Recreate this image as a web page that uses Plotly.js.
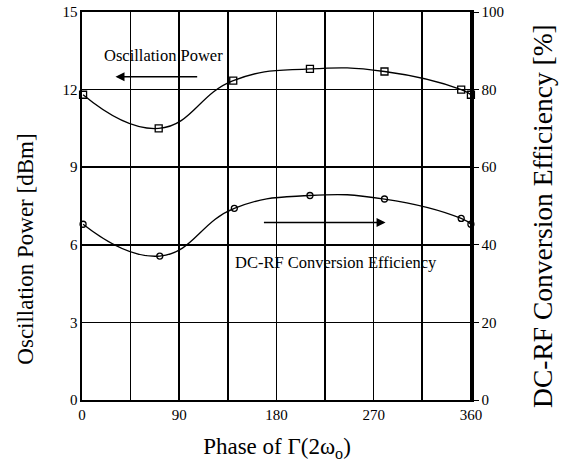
<!DOCTYPE html>
<html>
<head>
<meta charset="utf-8">
<script src="https://cdn.plot.ly/plotly-3.0.1.min.js"></script>
<style>html,body{margin:0;padding:0;background:#fff;}#chart{width:562px;height:462px;}</style>
</head>
<body>
<div id="chart"></div>
<script>
// Phase of Gamma(2w0) in degrees
const powerPhase = [1, 71, 140, 211, 280, 351, 360];
const powerDbm = [11.8, 10.5, 12.35, 12.8, 12.7, 12.0, 11.8];
const effPhase = [1, 72, 141, 211, 280, 351, 360];
const effPct = [45.3, 37.1, 49.4, 52.7, 51.8, 46.8, 45.3];
const xGrid = [0, 45, 90, 135, 180, 225, 270, 315, 360];
const xTickText = ['0', '', '90', '', '180', '', '270', '', '360'];
const yLeftTicks = [0, 3, 6, 9, 12, 15];
const yRightTicks = [0, 20, 40, 60, 80, 100];

const fam = 'Liberation Serif, Times New Roman, serif';
const f = (s) => ({family: fam, size: s, color: '#000'});

const traces = [
  {
    x: powerPhase, y: powerDbm, type: 'scatter', mode: 'lines+markers',
    line: {color: '#000', width: 1.3, shape: 'spline', smoothing: 1.3},
    marker: {symbol: 'square-open', size: 7, color: '#000', line: {width: 1.3}},
    yaxis: 'y', showlegend: false, cliponaxis: false
  },
  {
    x: effPhase, y: effPct, type: 'scatter', mode: 'lines+markers',
    line: {color: '#000', width: 1.3, shape: 'spline', smoothing: 1.3},
    marker: {symbol: 'circle-open', size: 6, color: '#000', line: {width: 1.3}},
    yaxis: 'y2', showlegend: false, cliponaxis: false
  }
];

const layout = {
  width: 562, height: 462,
  margin: {l: 82, r: 90, t: 12, b: 62},
  paper_bgcolor: '#fff', plot_bgcolor: '#fff',
  font: f(15),
  xaxis: {
    range: [0, 361], tickvals: xGrid, ticktext: xTickText,
    showgrid: true, gridcolor: '#000', gridwidth: 1.6,
    showline: true, linecolor: '#000', linewidth: 1.6, mirror: true,
    zeroline: false, ticks: '', tickfont: f(15),
    title: {text: 'Phase of Γ(2ω<sub>o</sub>)', font: f(23), standoff: 20}
  },
  yaxis: {
    range: [0, 15], tickvals: yLeftTicks,
    showgrid: true, gridcolor: '#000', gridwidth: 1.6,
    showline: true, linecolor: '#000', linewidth: 1.6, mirror: true,
    zeroline: false, ticks: '', tickfont: f(15)
  },
  yaxis2: {
    range: [0, 100], tickvals: yRightTicks, overlaying: 'y', side: 'right',
    showgrid: false, showline: true, linecolor: '#000', linewidth: 1.6,
    zeroline: false, ticks: 'outside', ticklen: 5, tickcolor: '#000', tickwidth: 1,
    tickfont: f(15)
  },
  annotations: [
    {x: -0.1436, y: 0.39, xref: 'paper', yref: 'paper', text: 'Oscillation Power [dBm]',
     textangle: -90, showarrow: false, xanchor: 'center', yanchor: 'middle', font: f(23)},
    {x: 1.179, y: 0.474, xref: 'paper', yref: 'paper', text: 'DC-RF Conversion Efficiency [%]',
     textangle: -90, showarrow: false, xanchor: 'center', yanchor: 'middle', font: f(27.5)},
    {x: 75, y: 13.3, xref: 'x', yref: 'y', text: 'Oscillation Power', showarrow: false, font: f(16.5)},
    {x: 31, y: 12.5, ax: 108, ay: 12.5, xref: 'x', yref: 'y', axref: 'x', ayref: 'y',
     text: '', showarrow: true, arrowhead: 2, arrowsize: 1.2, arrowwidth: 1.5, arrowcolor: '#000'},
    {x: 235, y: 5.3, xref: 'x', yref: 'y', text: 'DC-RF Conversion Efficiency', showarrow: false, font: f(16.5)},
    {x: 281, y: 6.86, ax: 167, ay: 6.86, xref: 'x', yref: 'y', axref: 'x', ayref: 'y',
     text: '', showarrow: true, arrowhead: 2, arrowsize: 1.2, arrowwidth: 1.5, arrowcolor: '#000'}
  ]
};

Plotly.newPlot('chart', traces, layout, {displayModeBar: false, staticPlot: true});
</script>
</body>
</html>
